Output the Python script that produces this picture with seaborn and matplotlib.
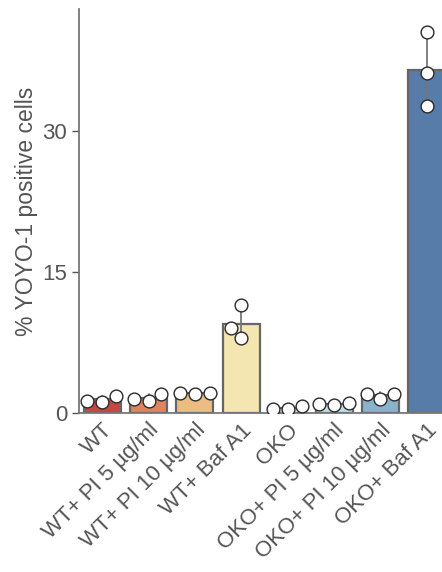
import matplotlib
matplotlib.use("Agg")
import matplotlib.pyplot as plt
import seaborn as sns
import pandas as pd

groups = ["WT", "WT+ PI 5 µg/ml", "WT+ PI 10 µg/ml", "WT+ Baf A1",
          "OKO", "OKO+ PI 5 µg/ml", "OKO+ PI 10 µg/ml", "OKO+ Baf A1"]
rep1 = [1.28, 1.50, 2.07, 11.5, 0.43, 0.90, 2.03, 40.6]
rep2 = [1.17, 1.25, 1.96, 9.07, 0.43, 0.82, 1.50, 36.2]
rep3 = [1.81, 2.03, 2.13, 7.94, 0.71, 1.07, 2.03, 32.7]
yticks = [0, 15, 30]
ylabel = "% YOYO-1 positive cells"

rows = []
for g, a, b, c in zip(groups, rep1, rep2, rep3):
    for v in (a, b, c):
        rows.append({"group": g, "value": v})
df = pd.DataFrame(rows)

sns.set_style("ticks")
plt.rcParams['font.family'] = ['Liberation Sans', 'DejaVu Sans']

fig = plt.figure(figsize=(4.42, 5.72), dpi=100)
ax = fig.add_axes([79/442, (572-412.7)/572, (450-79)/442, (412.7-9.3)/572])

pal = sns.color_palette("RdYlBu", 8)
sns.barplot(data=df, x="group", y="value", hue="group", order=groups, hue_order=groups,
            palette=pal, saturation=0.75, errorbar="sd", width=0.8,
            edgecolor="#666666", linewidth=1.6, legend=False,
            err_kws={"color": "#777777", "linewidth": 1.3}, ax=ax)
sns.swarmplot(data=df, x="group", y="value", order=groups, color="white",
              edgecolor="#2a2a2a", linewidth=1.0, size=9.2, ax=ax, zorder=5)

ax.set_xlim(-0.5, 7.5)
ax.set_ylim(0, 43)
ax.set_yticks(yticks)
ax.set_ylabel(ylabel, fontsize=16.5, color="#555555", labelpad=3)
ax.set_xlabel("")
ax.tick_params(axis="y", labelsize=16, colors="#555555", length=5, width=1, labelcolor="#555555")
ax.tick_params(axis="x", labelsize=16, length=0, labelcolor="#555555", pad=5)
plt.setp(ax.get_xticklabels(), rotation=45, ha="right", rotation_mode="anchor")
for s in ["top", "right"]:
    ax.spines[s].set_visible(False)
for s in ["left", "bottom"]:
    ax.spines[s].set_color("#777777")
    ax.spines[s].set_linewidth(1.3)

fig.savefig("out.png", dpi=100)
